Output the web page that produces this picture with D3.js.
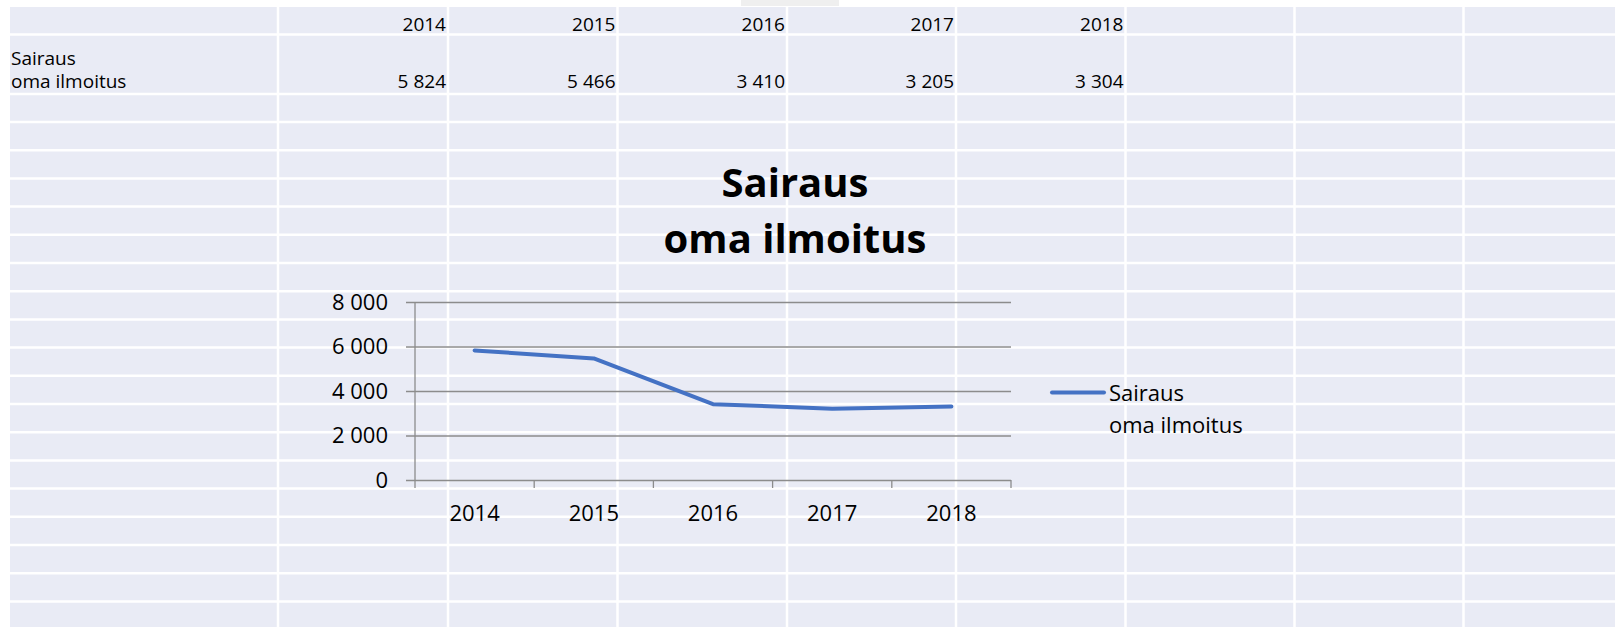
<!DOCTYPE html>
<html>
<head>
<meta charset="utf-8">
<script src="https://cdn.jsdelivr.net/npm/d3@7"></script>
<style>
  html, body { margin: 0; padding: 0; background: #ffffff; }
  svg { display: block; font-family: 'Open Sans', sans-serif; }
</style>
</head>
<body>
<div id="chart"></div>
<script>
(function(d3) {

var years = ['2014', '2015', '2016', '2017', '2018'];
var values = [5824, 5466, 3410, 3205, 3304];
var yTicks = [0, 2000, 4000, 6000, 8000];
var seriesLabel = ['Sairaus', 'oma ilmoitus'];
var chartTitle = ['Sairaus', 'oma ilmoitus'];

var width = 1615,
    height = 627;

var fi = d3.formatLocale({ decimal: ',', thousands: '\u00a0', grouping: [3], currency: ['', ' €'] });
var fmt = fi.format(',d');

var svg = d3.select('#chart')
  .append('svg')
  .attr('width', width)
  .attr('height', height);

// spreadsheet background
var colEdges = [278, 448, 617.5, 787, 956, 1125.5, 1294.5, 1463.5];
var rowEdges = [34.5, 94];
for (var r = 122; r < height; r += 28.2) rowEdges.push(r);

svg.append('rect')
  .attr('x', 10).attr('y', 7)
  .attr('width', width - 10).attr('height', height - 7)
  .attr('fill', '#e9ebf5');

svg.append('rect')
  .attr('x', 741).attr('y', 0)
  .attr('width', 98).attr('height', 6)
  .attr('fill', '#efefef');

svg.append('g').selectAll('line')
  .data(rowEdges)
  .enter().append('line')
  .attr('x1', 10).attr('x2', width)
  .attr('y1', function(d) { return d; }).attr('y2', function(d) { return d; })
  .attr('stroke', '#ffffff').attr('stroke-width', 2.5);

svg.append('g').selectAll('line')
  .data(colEdges)
  .enter().append('line')
  .attr('y1', 7).attr('y2', height)
  .attr('x1', function(d) { return d; }).attr('x2', function(d) { return d; })
  .attr('stroke', '#ffffff').attr('stroke-width', 2.5);

// table cells
var table = svg.append('g').attr('font-size', 19).attr('fill', '#000');

table.selectAll('text.year')
  .data(years)
  .enter().append('text')
  .attr('class', 'year')
  .attr('x', function(d, i) { return colEdges[i + 1] - 2; })
  .attr('y', 31)
  .attr('text-anchor', 'end')
  .text(function(d) { return d; });

table.selectAll('text.val')
  .data(values)
  .enter().append('text')
  .attr('class', 'val')
  .attr('x', function(d, i) { return colEdges[i + 1] - 2; })
  .attr('y', 87.5)
  .attr('text-anchor', 'end')
  .text(function(d) { return fmt(d); });

table.selectAll('text.lab')
  .data(seriesLabel)
  .enter().append('text')
  .attr('class', 'lab')
  .attr('x', 11)
  .attr('y', function(d, i) { return 64.5 + i * 23; })
  .text(function(d) { return d; });

// chart
var plot = { left: 415, right: 1011, top: 302, bottom: 480 };

var x = d3.scaleBand()
  .domain(years)
  .range([plot.left, plot.right]);

var y = d3.scaleLinear()
  .domain([0, 8000])
  .range([plot.bottom, plot.top]);

svg.append('g')
  .attr('font-weight', 'bold')
  .attr('font-size', 40)
  .attr('text-anchor', 'middle')
  .selectAll('text')
  .data(chartTitle)
  .enter().append('text')
  .attr('x', 795)
  .attr('y', function(d, i) { return 196.5 + i * 56.5; })
  .text(function(d) { return d; });

var yAxis = svg.append('g')
  .attr('transform', 'translate(' + plot.left + ',0)')
  .call(d3.axisLeft(y).tickValues(yTicks).tickFormat(fmt).tickSize(0).tickPadding(27));

yAxis.select('.domain').remove();
yAxis.selectAll('.tick line')
  .attr('x1', -9)
  .attr('x2', plot.right - plot.left)
  .attr('stroke', '#8c8c8c')
  .attr('stroke-width', 1.3);
yAxis.selectAll('.tick text')
  .attr('font-size', 22)
  .attr('font-family', "'Open Sans', sans-serif")
  .attr('fill', '#000');

// vertical axis line
svg.append('line')
  .attr('x1', plot.left).attr('x2', plot.left)
  .attr('y1', y(8000)).attr('y2', y(0) + 8)
  .attr('stroke', '#8c8c8c').attr('stroke-width', 1.3);

var xAxis = svg.append('g')
  .attr('transform', 'translate(0,' + plot.bottom + ')')
  .call(d3.axisBottom(x).tickSize(0).tickPadding(25));

xAxis.select('.domain').remove();
xAxis.selectAll('.tick text')
  .attr('font-size', 22)
  .attr('font-family', "'Open Sans', sans-serif")
  .attr('fill', '#000');

// category boundary ticks
var bounds = years.map(function(d) { return x(d); }).concat([x.range()[1]]);
svg.append('g').selectAll('line')
  .data(bounds.slice(1))
  .enter().append('line')
  .attr('x1', function(d) { return d; }).attr('x2', function(d) { return d; })
  .attr('y1', plot.bottom).attr('y2', plot.bottom + 8)
  .attr('stroke', '#8c8c8c').attr('stroke-width', 1.3);

var line = d3.line()
  .x(function(d, i) { return x(years[i]) + x.bandwidth() / 2; })
  .y(function(d) { return y(d); });

svg.append('path')
  .datum(values)
  .attr('d', line)
  .attr('fill', 'none')
  .attr('stroke', '#4472c4')
  .attr('stroke-width', 4)
  .attr('stroke-linejoin', 'round')
  .attr('stroke-linecap', 'round');

// legend
var legend = svg.append('g');
legend.append('line')
  .attr('x1', 1052).attr('x2', 1104)
  .attr('y1', 392.5).attr('y2', 392.5)
  .attr('stroke', '#4472c4').attr('stroke-width', 4)
  .attr('stroke-linecap', 'round');

legend.selectAll('text')
  .data(seriesLabel)
  .enter().append('text')
  .attr('x', 1109)
  .attr('y', function(d, i) { return 400.5 + i * 32; })
  .attr('font-size', 22)
  .attr('fill', '#000')
  .text(function(d) { return d; });

})(window.d3);
</script>
</body>
</html>
